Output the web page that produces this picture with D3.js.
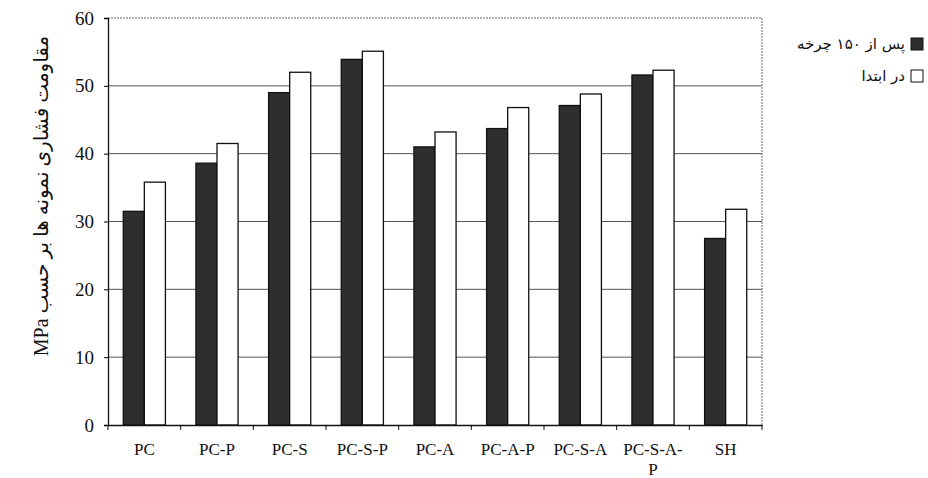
<!DOCTYPE html>
<html><head><meta charset="utf-8">
<script src="https://cdn.jsdelivr.net/npm/d3@7"></script>
<style>body{margin:0;background:#fff}svg{display:block}</style>
</head><body>
<svg id="c" width="928" height="478"></svg>
<script>
const categories = ["PC","PC-P","PC-S","PC-S-P","PC-A","PC-A-P","PC-S-A","PC-S-A-P","SH"];
const seriesNames = ["پس از ۱۵۰ چرخه","در ابتدا"];
const after150 = [31.5, 38.6, 49.0, 53.9, 41.0, 43.7, 47.1, 51.6, 27.5];
const initial  = [35.8, 41.5, 52.0, 55.1, 43.2, 46.8, 48.8, 52.3, 31.8];
const yTicks = [0,10,20,30,40,50,60];
const yTitle = "مقاومت فشاری نمونه ها بر حسب MPa";

const svg = d3.select("#c");
const m = {l:108, r:762, t:18, b:425};
const x = d3.scaleBand().domain(categories).range([m.l, m.r]).paddingInner(0.42).paddingOuter(0.21);
const xs = d3.scaleBand().domain([0,1]).range([0, x.bandwidth()]);
const y = d3.scaleLinear().domain([0,60]).range([m.b, m.t]);
const colors = ["#2e2e2e","#ffffff"];

// gridlines
svg.append("g").selectAll("line").data(yTicks.filter(d=>d>0 && d<60)).join("line")
  .attr("x1", m.l).attr("x2", m.r).attr("y1", d=>y(d)).attr("y2", d=>y(d))
  .attr("stroke","#555").attr("stroke-width",1);
// top and right dotted border
svg.append("line").attr("x1",m.l).attr("x2",m.r).attr("y1",y(60)).attr("y2",y(60))
  .attr("stroke","#666").attr("stroke-dasharray","2,1");
svg.append("line").attr("x1",m.r).attr("x2",m.r).attr("y1",y(60)).attr("y2",m.b)
  .attr("stroke","#666").attr("stroke-dasharray","2,1");

// bars
const data = categories.map((c,i)=>({c, v:[after150[i], initial[i]]}));
const g = svg.append("g").selectAll("g").data(data).join("g")
  .attr("transform", d=>`translate(${x(d.c)},0)`);
g.selectAll("rect").data(d=>d.v.map((v,k)=>({v,k}))).join("rect")
  .attr("x", d=>xs(d.k)).attr("width", xs.bandwidth())
  .attr("y", d=>y(d.v)).attr("height", d=>y(0)-y(d.v))
  .attr("fill", d=>colors[d.k]).attr("stroke","#111").attr("stroke-width",1.3);

// y axis
const ya = svg.append("g").attr("transform",`translate(${m.l},0)`)
  .call(d3.axisLeft(y).tickValues(yTicks).tickSize(4).tickPadding(10));
ya.select(".domain").attr("stroke","#111").attr("stroke-width",1.3);
ya.selectAll("text").attr("font-family","Liberation Serif, serif").attr("font-size",19).attr("fill","#111");

// x axis
const xa = svg.append("g").attr("transform",`translate(0,${m.b})`)
  .call(d3.axisBottom(x).tickSize(0).tickPadding(18));
xa.select(".domain").attr("stroke","#111").attr("stroke-width",1.3);
xa.selectAll("text").attr("font-family","Liberation Serif, serif").attr("font-size",17).attr("fill","#111")
  .each(function(d){
    if (d === "PC-S-A-P") {
      const t = d3.select(this); t.text(null);
      t.append("tspan").attr("x",0).text("PC-S-A-");
      t.append("tspan").attr("x",0).attr("dy","1.2em").text("P");
    }
  });
// ticks between categories
const bounds = d3.range(categories.length+1).map(i=> m.l + i*(m.r-m.l)/categories.length);
svg.append("g").selectAll("line").data(bounds).join("line")
  .attr("x1",d=>d).attr("x2",d=>d).attr("y1",m.b).attr("y2",m.b+5).attr("stroke","#111");

// y title
svg.append("text").attr("transform",`translate(48,196) rotate(-90)`)
  .attr("text-anchor","middle").attr("font-family","Liberation Serif, DejaVu Sans, serif").attr("font-size",20)
  .attr("fill","#111").attr("direction","rtl").text(yTitle);

// legend
const lg = svg.append("g");
seriesNames.forEach((s,i)=>{
  const yy = 44 + i*32;
  lg.append("rect").attr("x",911).attr("y",yy-6).attr("width",12).attr("height",12)
    .attr("fill",colors[i]).attr("stroke","#111").attr("stroke-width",1);
  lg.append("text").attr("x",905).attr("y",yy+5).attr("text-anchor","start")
    .attr("direction","rtl")
    .attr("font-family","DejaVu Sans, sans-serif").attr("font-size",15).attr("fill","#111").text(s);
});
</script>
</body></html>
